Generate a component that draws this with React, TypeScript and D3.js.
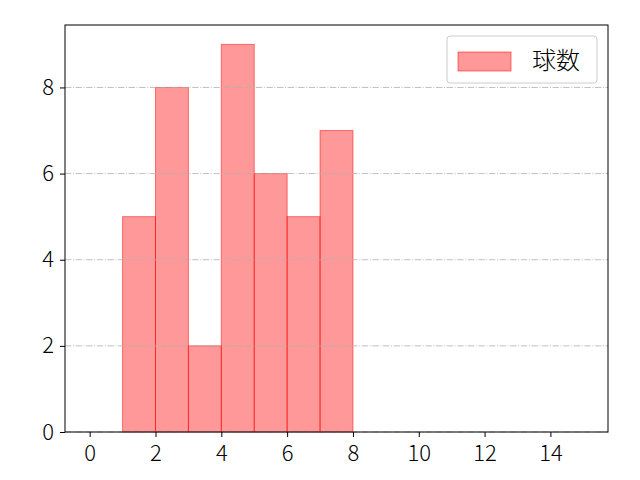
import React, { useRef, useEffect } from 'react';
import { select, scaleLinear, axisBottom, axisLeft } from 'd3';

const binStarts = [1, 2, 3, 4, 5, 6, 7];
const counts = [5, 8, 2, 9, 6, 5, 7];
const xTicks = [0, 2, 4, 6, 8, 10, 12, 14];
const yTicks = [0, 2, 4, 6, 8];
const legendLabel = '球数';

const W = 640;
const H = 480;
const margin = { top: 25, right: 32, bottom: 48, left: 65 };
const innerW = W - margin.left - margin.right;
const innerH = H - margin.top - margin.bottom;
const font = '"Noto Sans CJK JP", "DejaVu Sans", sans-serif';

const App: React.FC = () => {
  const svgRef = useRef<SVGSVGElement>(null);

  useEffect(() => {
    const svg = select(svgRef.current as any);
    svg.selectAll('*').remove();

    const x = scaleLinear().domain([-0.75, 15.75]).range([0, innerW]);
    const y = scaleLinear().domain([0, 9.45]).range([innerH, 0]);

    const g = svg
      .append('g')
      .attr('transform', `translate(${margin.left}, ${margin.top})`);

    // bars
    g.selectAll('.bar')
      .data(binStarts)
      .join('rect')
      .attr('class', 'bar')
      .attr('x', d => x(d))
      .attr('width', d => x(d + 1) - x(d))
      .attr('y', (d, i) => y(counts[i]))
      .attr('height', (d, i) => y(0) - y(counts[i]))
      .attr('fill', 'rgba(255,0,0,0.4)')
      .attr('stroke', 'rgba(255,0,0,0.5)')
      .attr('stroke-width', 1);

    // horizontal grid on top
    g.selectAll('.grid')
      .data(yTicks)
      .join('line')
      .attr('class', 'grid')
      .attr('x1', 0)
      .attr('x2', innerW)
      .attr('y1', d => y(d))
      .attr('y2', d => y(d))
      .attr('stroke', '#b0b0b0')
      .attr('stroke-width', 0.8)
      .attr('stroke-dasharray', '6.4,1.6,1,1.6');

    // frame
    g.append('rect')
      .attr('width', innerW)
      .attr('height', innerH)
      .attr('fill', 'none')
      .attr('stroke', '#000')
      .attr('stroke-width', 1);

    const xAxis = g
      .append('g')
      .attr('transform', `translate(0, ${innerH})`)
      .call(axisBottom(x).tickValues(xTicks).tickSizeOuter(0).tickSize(5).tickPadding(8));
    const yAxis = g
      .append('g')
      .call(axisLeft(y).tickValues(yTicks).tickSizeOuter(0).tickSize(5).tickPadding(6));

    [xAxis, yAxis].forEach(a => {
      a.select('.domain').remove();
      a.attr('font-size', null).attr('font-family', null);
      a.selectAll('text')
        .style('font-family', font)
        .style('font-size', '22px')
        .style('font-weight', 300)
        .attr('fill', '#000');
      a.selectAll('line').attr('stroke', '#000');
    });

    // legend
    const lg = g.append('g').attr('transform', `translate(${innerW - 161}, 11)`);
    lg.append('rect')
      .attr('width', 150)
      .attr('height', 47)
      .attr('rx', 3)
      .attr('fill', 'rgba(255,255,255,0.8)')
      .attr('stroke', '#cccccc');
    lg.append('rect')
      .attr('x', 11)
      .attr('y', 16)
      .attr('width', 53)
      .attr('height', 19)
      .attr('fill', 'rgba(255,0,0,0.4)')
      .attr('stroke', 'rgba(255,0,0,0.5)');
    lg.append('text')
      .attr('x', 85)
      .attr('y', 25)
      .attr('dy', '0.35em')
      .style('font-family', font)
      .style('font-size', '24px')
      .style('font-weight', 300)
      .attr('fill', '#000')
      .text(legendLabel);
  }, []);

  return (
    <svg
      width={W}
      height={H}
      ref={svgRef}
      style={{ position: 'absolute', left: 0, top: 0, background: '#fff' }}
    ></svg>
  );
};

export default App;
